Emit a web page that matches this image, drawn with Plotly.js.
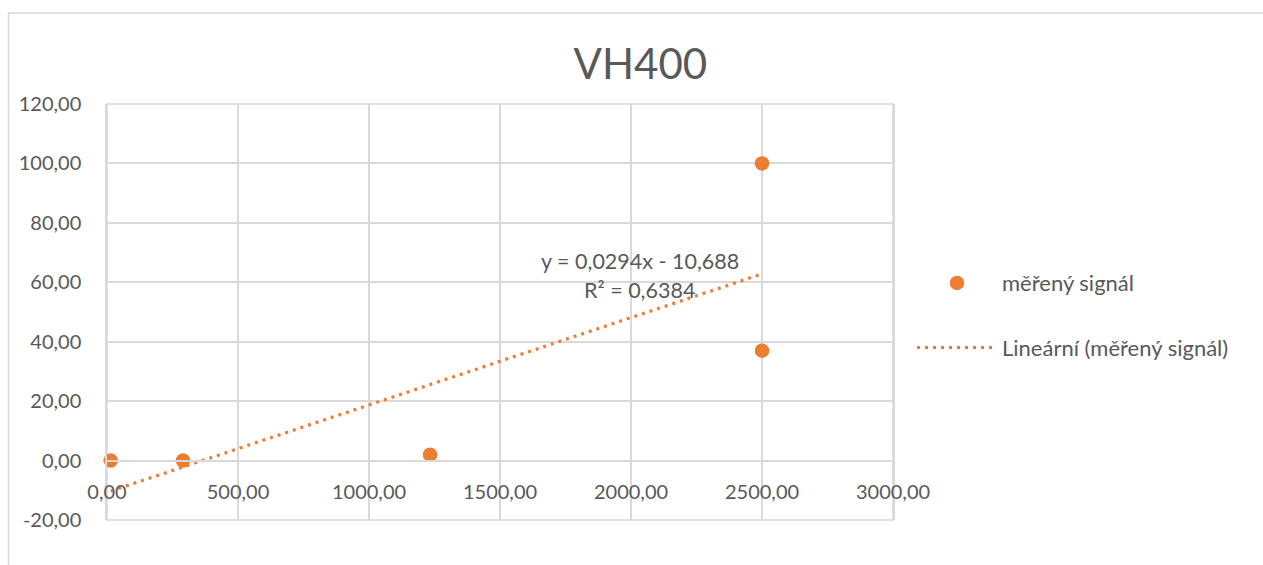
<!DOCTYPE html>
<html>
<head>
<meta charset="utf-8">
<script src="https://cdn.plot.ly/plotly-3.0.1.min.js"></script>
<style>
  body { margin: 0; background: #fff; }
  #plot { width: 1263px; height: 565px; }
</style>
</head>
<body>
<div id="plot"></div>
<script>
// measured values (x = concentration, y = signal)
var mereniX = [14, 290, 1233, 2500, 2500];
var mereniY = [0, 0, 2, 100, 37];

// linear trendline end points as drawn
var trendX = [14, 2500];
var trendY = [-10.28, 62.81];

var xTicks = [0, 500, 1000, 1500, 2000, 2500, 3000];
var xLabels = ['0,00', '500,00', '1000,00', '1500,00', '2000,00', '2500,00', '3000,00'];
var yTicks = [-20, 0, 20, 40, 60, 80, 100, 120];
var yLabels = ['-20,00', '0,00', '20,00', '40,00', '60,00', '80,00', '100,00', '120,00'];

var orange = '#ED7D31';
var textGray = '#595959';
var gridGray = '#D9D9D9';

var trace1 = {
    x: mereniX,
    y: mereniY,
    type: 'scatter',
    mode: 'markers',
    name: 'měřený signál',
    legendgroup: 'a',
    marker: { color: orange, size: 14.5 },
    cliponaxis: false
};

var trace2 = {
    x: trendX,
    y: trendY,
    type: 'scatter',
    mode: 'lines',
    name: 'Lineární (měřený signál)',
    legendgroup: 'b',
    line: { color: orange, width: 3.2, dash: '3px,5px' }
};

var layout = {
    width: 1263,
    height: 565,
    margin: { l: 107, r: 370, t: 104, b: 45 },
    paper_bgcolor: '#fff',
    plot_bgcolor: '#fff',
    font: { family: 'Lato, sans-serif', color: textGray, size: 20 },
    separators: ',.',
    title: {
        text: 'VH400',
        font: { size: 42, color: textGray },
        x: 0.507, xanchor: 'center',
        y: 0.886, yanchor: 'middle'
    },
    xaxis: {
        range: [0, 3000],
        tickvals: xTicks,
        ticktext: xLabels,
        showgrid: true,
        gridcolor: gridGray,
        gridwidth: 1.5,
        zeroline: false,
        showline: true,
        linecolor: gridGray,
        linewidth: 1.5,
        anchor: 'free',
        position: 1 / 7,
        ticks: '',
        ticklabelstandoff: 14,
        tickfont: { size: 20, color: textGray }
    },
    yaxis: {
        range: [-20, 120],
        tickvals: yTicks,
        ticktext: yLabels,
        showgrid: true,
        gridcolor: gridGray,
        gridwidth: 1.5,
        zeroline: false,
        showline: true,
        mirror: true,
        linecolor: gridGray,
        linewidth: 1.5,
        ticks: '',
        ticklabelstandoff: 20,
        tickfont: { size: 20, color: textGray }
    },
    legend: {
        x: 1.0242, xanchor: 'left',
        y: 0.62, yanchor: 'top',
        traceorder: 'grouped',
        tracegroupgap: 33,
        itemwidth: 80,
        font: { size: 22, color: textGray },
        bgcolor: 'rgba(0,0,0,0)'
    },
    annotations: [
        { x: 2034, y: 67.2, xref: 'x', yref: 'y', text: 'y = 0,0294x - 10,688',
          showarrow: false, font: { size: 21.5, color: textGray } },
        { x: 2034, y: 57.4, xref: 'x', yref: 'y', text: 'R² = 0,6384',
          showarrow: false, font: { size: 21.5, color: textGray } }
    ],
    shapes: [
        // plot area frame (bottom edge at -20)
        { type: 'rect', xref: 'paper', yref: 'paper', x0: 0, x1: 1, y0: 0, y1: 1,
          layer: 'below', line: { color: gridGray, width: 1.5 } },
        // chart area border (top and left edges visible)
        { type: 'path', xref: 'paper', yref: 'paper',
          path: 'M -0.1253,-0.2 L -0.1253,1.2188 L 1.5,1.2188',
          line: { color: gridGray, width: 1.5 } }
    ]
};

Plotly.newPlot('plot', [trace1, trace2], layout, { displayModeBar: false });
</script>
</body>
</html>
